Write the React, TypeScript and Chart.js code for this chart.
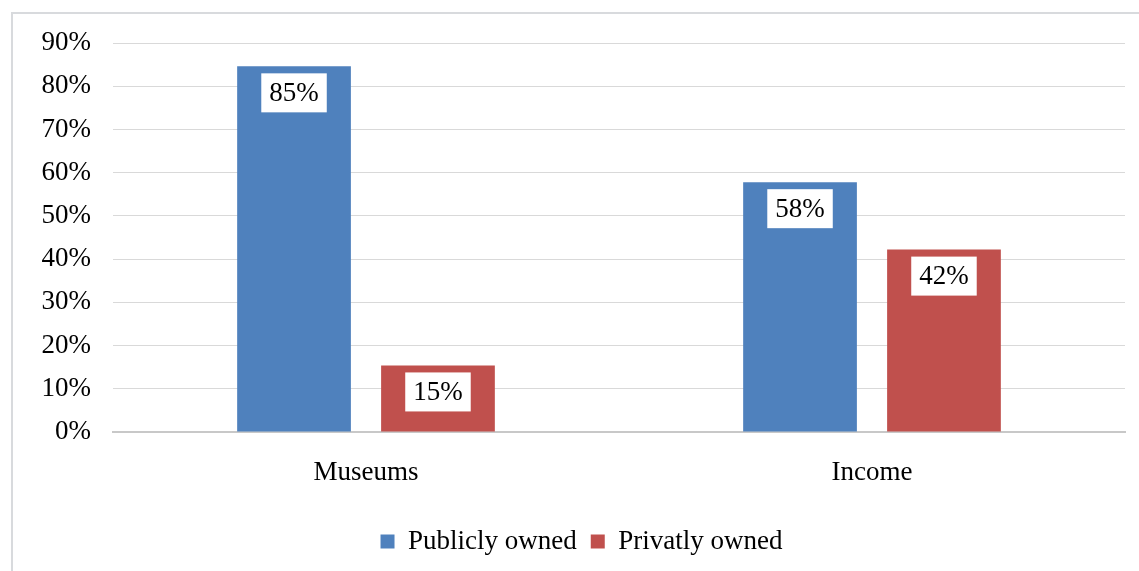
import React, { useEffect, useRef } from "react";
import { Chart, registerables } from "chart.js";

Chart.register(...registerables);

const categories = ["Museums", "Income"];
const publiclyOwned = [84.6, 57.8];
const privatelyOwned = [15.4, 42.2];
const seriesNames = ["Publicly owned", "Privatly owned"];
const yTicks = [0, 10, 20, 30, 40, 50, 60, 70, 80, 90];

const FONT = '"Liberation Serif", "Times New Roman", serif';
const FS = 27;

const valueBoxPlugin = {
  id: "valueBoxes",
  afterDatasetsDraw(chart: any) {
    const ctx = chart.ctx;
    ctx.save();
    ctx.font = `${FS}px ${FONT}`;
    ctx.textAlign = "center";
    ctx.textBaseline = "middle";
    chart.data.datasets.forEach((ds: any, di: number) => {
      const meta = chart.getDatasetMeta(di);
      meta.data.forEach((bar: any, i: number) => {
        const label = Math.round(ds.data[i]) + "%";
        const tw = ctx.measureText(label).width;
        const w = tw + 16;
        const h = 39;
        const top = bar.y + 7;
        ctx.fillStyle = "#ffffff";
        ctx.fillRect(bar.x - w / 2, top, w, h);
        ctx.fillStyle = "#000000";
        ctx.fillText(label, bar.x, top + h / 2 + 1);
      });
    });
    ctx.restore();
  },
};

export default function App() {
  const ref = useRef<HTMLCanvasElement | null>(null);
  useEffect(() => {
    if (!ref.current) return;
    const chart = new Chart(ref.current, {
      type: "bar",
      data: {
        labels: categories,
        datasets: [
          {
            label: seriesNames[0],
            data: publiclyOwned,
            backgroundColor: "#4F81BD",
            categoryPercentage: 0.569,
            barPercentage: 0.79,
          },
          {
            label: seriesNames[1],
            data: privatelyOwned,
            backgroundColor: "#C0504D",
            categoryPercentage: 0.569,
            barPercentage: 0.79,
          },
        ],
      },
      options: {
        animation: false,
        responsive: false,
        layout: { padding: { left: 38, right: 14, top: 43, bottom: 6 } },
        plugins: {
          tooltip: { enabled: false },
          legend: {
            position: "bottom",
            labels: {
              font: { family: FONT, size: FS },
              color: "#000",
              boxWidth: 14,
              boxHeight: 14,
              padding: 14,
            },
          },
        },
        scales: {
          y: {
            min: 0,
            max: 90,
            afterBuildTicks: (scale: any) => {
              scale.ticks = yTicks.map((v) => ({ value: v }));
            },
            afterFit: (scale: any) => {
              scale.width = 75;
            },
            ticks: {
              callback: (v: any) => v + "%",
              font: { family: FONT, size: FS },
              color: "#000",
              padding: 22,
            },
            grid: { color: "#d9d9d9", drawTicks: false },
            border: { display: false },
          },
          x: {
            afterFit: (scale: any) => {
              scale.height = 82;
            },
            ticks: {
              font: { family: FONT, size: FS },
              color: "#000",
              padding: 25,
            },
            grid: { display: false, drawTicks: false },
            border: { color: "#c8c8c8", width: 2 },
          },
        },
      },
      plugins: [valueBoxPlugin],
    });
    return () => chart.destroy();
  }, []);
  return (
    <div
      style={{
        position: "fixed",
        left: 0,
        top: 0,
        width: 1139,
        height: 571,
        overflow: "hidden",
        background: "#fff",
      }}
    >
      <canvas
        ref={ref}
        width={1139}
        height={571}
        style={{ position: "absolute", left: 0, top: 0 }}
      />
      <div
        style={{
          position: "absolute",
          left: 11,
          top: 12,
          width: 1200,
          height: 600,
          border: "2px solid #d8dadd",
          pointerEvents: "none",
        }}
      />
    </div>
  );
}
